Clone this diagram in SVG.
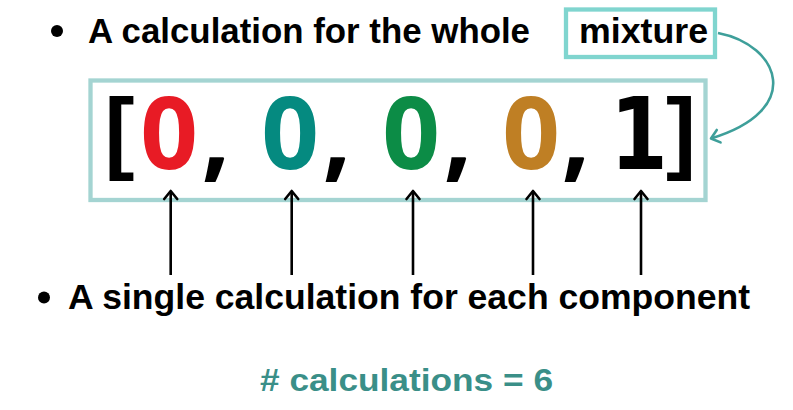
<svg xmlns="http://www.w3.org/2000/svg" width="793" height="410" viewBox="0 0 793 410">
<style>
.t{font-family:"Liberation Sans",Arial,sans-serif;font-weight:700;font-size:35px;fill:#000}
.d{font-family:"Open Sans","Noto Sans",sans-serif;font-weight:700;font-size:101px;text-anchor:middle}
.b{font-family:"Liberation Sans",Arial,sans-serif;font-weight:700;font-size:90px;text-anchor:middle;fill:#000}
.one{font-family:"DejaVu Sans",sans-serif;font-weight:700;font-size:99px;text-anchor:middle;fill:#000}
.up{stroke:#000;stroke-width:2.6;fill:none}
</style>
<defs>
<marker id="ah" markerUnits="userSpaceOnUse" markerWidth="20" markerHeight="20" refX="10" refY="10" orient="auto" viewBox="0 0 20 20">
<path d="M2,3.5 L10,10 L2,16.5" fill="none" stroke="#000" stroke-width="2.6" stroke-linecap="round" stroke-linejoin="round"/>
</marker>
<marker id="ahc" markerUnits="userSpaceOnUse" markerWidth="20" markerHeight="20" refX="10" refY="10" orient="auto" viewBox="0 0 20 20">
<path d="M2,3.5 L10,10 L2,16.5" fill="none" stroke="#3e9f9a" stroke-width="2.6" stroke-linecap="round" stroke-linejoin="round"/>
</marker>
</defs>
<rect width="793" height="410" fill="#fff"/>
<g id="top-label">
<circle cx="57" cy="31" r="6" fill="#000"/>
<text class="t" x="88" y="43" textLength="442" lengthAdjust="spacingAndGlyphs">A calculation for the whole</text>
</g>
<g id="mixture">
<rect x="566" y="9.5" width="149" height="47.5" fill="none" stroke="#80d5cf" stroke-width="4.3"/>
<text class="t" x="579" y="43" textLength="129" lengthAdjust="spacingAndGlyphs">mixture</text>
</g>
<g id="array">
<rect x="90.5" y="80.5" width="615" height="119.5" fill="none" stroke="#a4d4d2" stroke-width="4.3"/>
<text class="b" x="119.5" y="162">[</text>
<text class="d" x="169" y="169" fill="#e81b25">0</text>
<text class="d" x="216" y="169" fill="#000">,</text>
<text class="d" x="290" y="169" fill="#058a80">0</text>
<text class="d" x="337" y="169" fill="#000">,</text>
<text class="d" x="411" y="169" fill="#0c8c46">0</text>
<text class="d" x="458" y="169" fill="#000">,</text>
<text class="d" x="531" y="169" fill="#bf7f24">0</text>
<text class="d" x="576" y="169" fill="#000">,</text>
<text class="one" transform="translate(639,169) scale(0.84,1)" x="0" y="0">1</text>
<text class="b" x="681" y="162">]</text>
</g>
<g id="bottom-label">
<circle cx="44" cy="297.5" r="6" fill="#000"/>
<text class="t" x="68" y="309" textLength="682" lengthAdjust="spacingAndGlyphs">A single calculation for each component</text>
</g>
<g id="count">
<text x="260" y="391" textLength="293" lengthAdjust="spacingAndGlyphs" style="font-family:'Liberation Sans',Arial,sans-serif;font-weight:700;font-size:31px;fill:#3a8f88"># calculations = 6</text>
</g>
<g id="connectors">
<path class="up" d="M170.7,275 V191" marker-end="url(#ah)"/>
<path class="up" d="M291.7,275 V191" marker-end="url(#ah)"/>
<path class="up" d="M413,275 V191" marker-end="url(#ah)"/>
<path class="up" d="M533,275 V191" marker-end="url(#ah)"/>
<path class="up" d="M641,275 V191" marker-end="url(#ah)"/>
<path d="M718,33 C780,45 805,110 711,138.5" fill="none" stroke="#3e9f9a" stroke-width="2.6" marker-end="url(#ahc)"/>
</g>
</svg>
